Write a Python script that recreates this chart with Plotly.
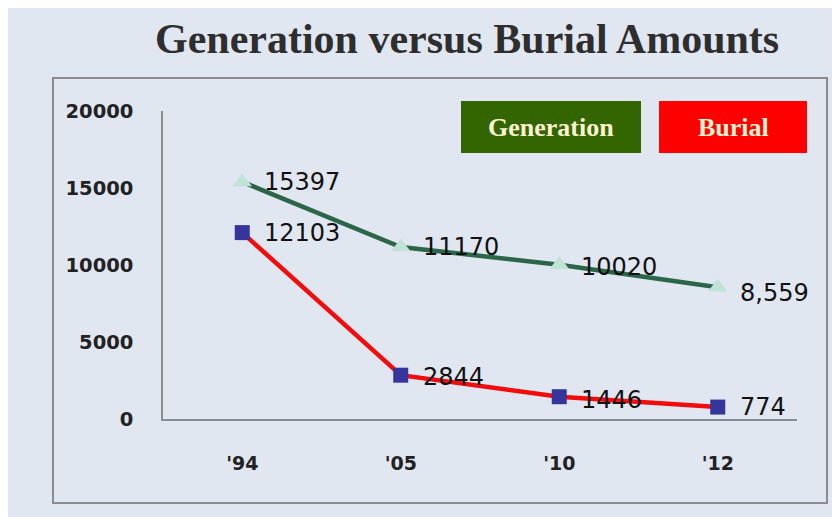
import plotly.graph_objects as go

# ---- data ----
years = ["'94", "'05", "'10", "'12"]
generation = [15397, 11170, 10020, 8559]
burial = [12103, 2844, 1446, 774]
generation_labels = ["15397", "11170", "10020", "8,559"]
burial_labels = ["12103", "2844", "1446", "774"]
series_names = ["Generation", "Burial"]
y_ticks = [0, 5000, 10000, 15000, 20000]

W, H = 840, 517
OFF = 8  # page body margin
L = 163 - OFF
T = 111 - OFF
R = W - (797 - OFF)
B = H - (419 - OFF)
PW, PH = W - L - R, H - T - B


def px(x):  # page x -> paper
    return (x - OFF - L) / PW


def py(y):  # page y -> paper
    return (H - B - (y - OFF)) / PH


BG = "#e1e7f1"
fig = go.Figure()

fig.add_trace(go.Scatter(
    x=years, y=generation, mode="lines+markers", name=series_names[0],
    line=dict(color="#2b6648", width=4.5),
    marker=dict(symbol="triangle-up", size=17, color="#bfe3d6",
                line=dict(width=0)),
    cliponaxis=False,
))
fig.add_trace(go.Scatter(
    x=years, y=burial, mode="lines+markers", name=series_names[1],
    line=dict(color="#f20c0c", width=4.5),
    marker=dict(symbol="square", size=15, color="#35359c",
                line=dict(width=0)),
    cliponaxis=False,
))

annotations = []
label_font = dict(family="DejaVu Sans", size=24, color="#111111")
gen_yshift = [0, 0, -2, -6]
for i, (yr, v, t) in enumerate(zip(years, generation, generation_labels)):
    annotations.append(dict(x=yr, y=v, xref="x", yref="y", text=t,
                            showarrow=False, xanchor="left", yanchor="middle",
                            xshift=20, yshift=gen_yshift[i], font=label_font))
bur_yshift = [0, -2, -3, 0]
for i, (yr, v, t) in enumerate(zip(years, burial, burial_labels)):
    annotations.append(dict(x=yr, y=v, xref="x", yref="y", text=t,
                            showarrow=False, xanchor="left", yanchor="middle",
                            xshift=20, yshift=bur_yshift[i], font=label_font))

# legend boxes
shapes = []
leg_boxes = [(461, 641, "#336600"), (659, 807, "#ff0000")]
for (x0, x1, c), name in zip(leg_boxes, series_names):
    shapes.append(dict(type="rect", xref="paper", yref="paper",
                       x0=px(x0), x1=px(x1), y0=py(153), y1=py(101),
                       fillcolor=c, line=dict(width=0), layer="above"))
    annotations.append(dict(x=(px(x0) + px(x1)) / 2, y=(py(153) + py(101)) / 2,
                            xref="paper", yref="paper", text="<b>%s</b>" % name,
                            showarrow=False, xanchor="center", yanchor="middle",
                            font=dict(family="Liberation Serif", size=26,
                                      color="#fbf3d2")))

# outer frame
shapes.append(dict(type="rect", xref="paper", yref="paper",
                   x0=px(53), x1=px(827), y0=py(503), y1=py(78),
                   line=dict(color="#8a8c90", width=2), fillcolor="rgba(0,0,0,0)",
                   layer="below"))

# title
annotations.append(dict(x=px(467), y=py(39), xref="paper", yref="paper",
                        text="<b>Generation versus Burial Amounts</b>",
                        showarrow=False, xanchor="center", yanchor="middle",
                        font=dict(family="Liberation Serif", size=42,
                                  color="#2e2e2e")))

fig.update_layout(
    width=W, height=H,
    margin=dict(l=L, r=R, t=T, b=B, pad=0),
    paper_bgcolor=BG, plot_bgcolor=BG,
    showlegend=False,
    shapes=shapes, annotations=annotations,
)
fig.update_xaxes(
    type="category", range=[-0.5, 3.5],
    showline=True, linecolor="#8a8c90", linewidth=1.5,
    showgrid=False, zeroline=False, ticks="",
    tickfont=dict(family="DejaVu Sans", size=19, color="#222222", weight="bold"),
    ticklabelstandoff=26,
)
fig.update_yaxes(
    range=[0, 20000], tickvals=y_ticks, ticktext=[str(v) for v in y_ticks],
    showline=True, linecolor="#8a8c90", linewidth=1.5,
    showgrid=False, zeroline=False, ticks="",
    tickfont=dict(family="DejaVu Sans", size=19.5, color="#222222", weight="bold"),
    ticklabelstandoff=24,
)

fig.write_html("out.html")
